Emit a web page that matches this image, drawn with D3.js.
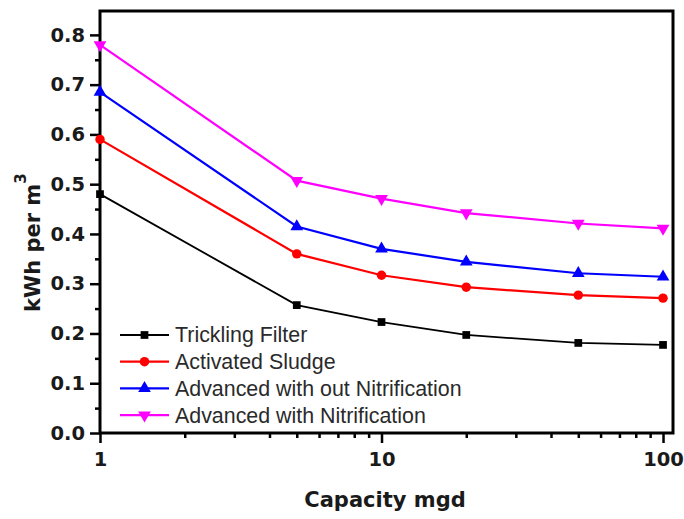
<!DOCTYPE html>
<html>
<head>
<meta charset="utf-8">
<script src="https://cdn.jsdelivr.net/npm/d3@7"></script>
<style>
  body { margin: 0; background: #fff; }
  svg { display: block; font-family: "Liberation Sans", Arial, sans-serif; }
</style>
</head>
<body>
<svg width="684" height="519"></svg>
<script>
// data
const capacity = [1, 5, 10, 20, 50, 100];
const tricklingFilter = [0.48, 0.257, 0.223, 0.197, 0.181, 0.177];
const activatedSludge = [0.59, 0.36, 0.317, 0.293, 0.277, 0.271];
const advNoNitrification = [0.685, 0.415, 0.370, 0.344, 0.321, 0.314];
const advNitrification = [0.78, 0.507, 0.471, 0.442, 0.421, 0.411];

const seriesNames = ["Trickling Filter", "Activated Sludge", "Advanced with out Nitrification", "Advanced with Nitrification"];
const seriesValues = [tricklingFilter, activatedSludge, advNoNitrification, advNitrification];
const seriesColors = ["#000000", "#ff0000", "#0000ff", "#ff00ff"];

const yTicks = [0, 0.1, 0.2, 0.3, 0.4, 0.5, 0.6, 0.7, 0.8];
const yMinor = [0.05, 0.15, 0.25, 0.35, 0.45, 0.55, 0.65, 0.75];
const xTicks = [1, 10, 100];
const xMinor = [2, 3, 4, 5, 6, 7, 8, 9, 20, 30, 40, 50, 60, 70, 80, 90];

const svg = d3.select("svg");
const plotLeft = 100, plotRight = 673, plotTop = 11, plotBottom = 433;
const boldFont = "'DejaVu Sans', sans-serif";

const x = d3.scaleLog().domain([1, 108.5]).range([plotLeft, plotRight]);
const y = d3.scaleLinear().domain([0, 0.848]).range([plotBottom, plotTop]);

// 축 (major / minor)
function styleAxis(g) {
  g.select(".domain").remove();
  g.selectAll(".tick line").attr("stroke", "#000").attr("stroke-width", 2.5);
  g.selectAll(".tick text")
    .attr("fill", "#1a1a1a")
    .style("font-size", "19.5px")
    .style("font-weight", "bold")
    .style("font-family", boldFont);
}

svg.append("g")
  .attr("transform", `translate(${plotLeft},0)`)
  .call(d3.axisLeft(y).tickValues(yTicks).tickSize(10).tickPadding(5).tickFormat(d3.format(".1f")))
  .call(styleAxis);

svg.append("g")
  .attr("transform", `translate(${plotLeft},0)`)
  .call(d3.axisLeft(y).tickValues(yMinor).tickSize(5).tickFormat(""))
  .call(styleAxis);

svg.append("g")
  .attr("transform", `translate(0,${plotBottom})`)
  .call(d3.axisBottom(x).tickValues(xTicks).tickSize(10).tickPadding(9).tickFormat(d3.format("d")))
  .call(styleAxis);

svg.append("g")
  .attr("transform", `translate(0,${plotBottom})`)
  .call(d3.axisBottom(x).tickValues(xMinor).tickSize(5).tickFormat(""))
  .call(styleAxis);

// plot frame
svg.append("rect")
  .attr("x", plotLeft)
  .attr("y", plotTop)
  .attr("width", plotRight - plotLeft)
  .attr("height", plotBottom - plotTop)
  .attr("fill", "none")
  .attr("stroke", "#000")
  .attr("stroke-width", 3);

// lines + markers
const symbols = [d3.symbolSquare, d3.symbolCircle, d3.symbolTriangle, d3.symbolTriangle];
const symbolSizes = [60, 70, 70, 70];
const symbolRotate = [0, 0, 0, 180];

const line = d3.line()
  .x(d => x(d[0]))
  .y(d => y(d[1]));

seriesValues.forEach((vals, i) => {
  const pts = capacity.map((c, j) => [c, vals[j]]);
  svg.append("path")
    .datum(pts)
    .attr("fill", "none")
    .attr("stroke", seriesColors[i])
    .attr("stroke-width", i === 0 ? 1.8 : 2.2)
    .attr("d", line);

  svg.append("g").selectAll("path")
    .data(pts)
    .join("path")
    .attr("transform", d => `translate(${x(d[0])},${y(d[1])}) rotate(${symbolRotate[i]})`)
    .attr("d", d3.symbol().type(symbols[i]).size(symbolSizes[i]))
    .attr("fill", seriesColors[i]);
});

// legend
const legendX = 120, legendY = 335, legendGap = 26.7;
seriesNames.forEach((name, i) => {
  const ly = legendY + i * legendGap;
  svg.append("line")
    .attr("x1", legendX)
    .attr("x2", legendX + 49)
    .attr("y1", ly)
    .attr("y2", ly)
    .attr("stroke", seriesColors[i])
    .attr("stroke-width", i === 0 ? 1.8 : 2.2);
  svg.append("path")
    .attr("transform", `translate(${legendX + 24.5},${ly}) rotate(${symbolRotate[i]})`)
    .attr("d", d3.symbol().type(symbols[i]).size(symbolSizes[i]))
    .attr("fill", seriesColors[i]);
  svg.append("text")
    .attr("x", legendX + 55)
    .attr("y", ly)
    .attr("dy", "0.35em")
    .attr("fill", "#2a2a2a")
    .style("font-size", "21.4px")
    .text(name);
});

// axis titles
svg.append("text")
  .attr("x", 385)
  .attr("y", 507)
  .attr("text-anchor", "middle")
  .style("font-size", "21px")
  .style("font-weight", "bold")
  .style("font-family", boldFont)
  .attr("fill", "#1a1a1a")
  .text("Capacity mgd");

const yTitle = svg.append("text")
  .attr("transform", "translate(40,312) rotate(-90)")
  .attr("text-anchor", "start")
  .style("font-size", "21px")
  .style("font-weight", "bold")
  .style("font-family", boldFont)
  .attr("fill", "#1a1a1a");
yTitle.append("tspan").text("kWh per m");
yTitle.append("tspan").attr("dy", -14).style("font-size", "15px").text("3");
</script>
</body>
</html>
